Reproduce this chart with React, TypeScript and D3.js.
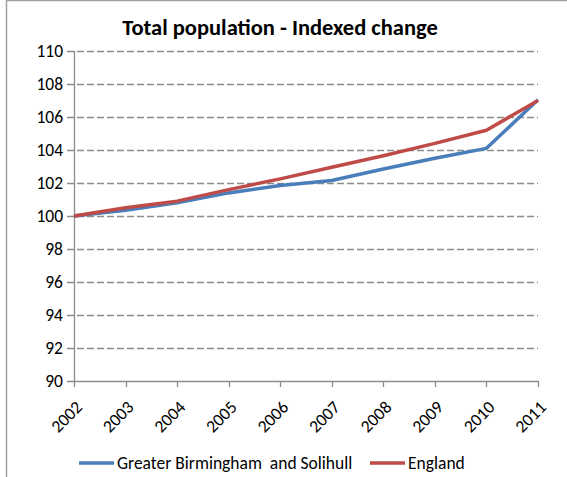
import { useEffect, useRef } from "react";
import * as d3 from "d3";

const years = ["2002", "2003", "2004", "2005", "2006", "2007", "2008", "2009", "2010", "2011"];
const birmingham = [100, 100.35, 100.8, 101.4, 101.85, 102.15, 102.85, 103.5, 104.1, 107.05];
const england = [100, 100.5, 100.9, 101.6, 102.25, 102.95, 103.65, 104.4, 105.2, 107.0];
const yTicks = [90, 92, 94, 96, 98, 100, 102, 104, 106, 108, 110];

const series = [
  { name: "Greater Birmingham  and Solihull", values: birmingham, color: "#4a7ebb" },
  { name: "England", values: england, color: "#be4b48" },
];

const App = () => {
  const svgRef = useRef<SVGSVGElement>(null);

  useEffect(() => {
    if (!svgRef.current) return;
    const svg = d3.select(svgRef.current);
    svg.selectAll("*").remove();

    const width = 567;
    const height = 477;
    const margin = { top: 51, right: 29, bottom: 96, left: 74 };
    const font = "Carlito, 'Liberation Sans', Arial, sans-serif";

    const x = d3
      .scalePoint()
      .domain(years)
      .range([margin.left, width - margin.right]);
    const y = d3
      .scaleLinear()
      .domain([90, 110])
      .range([height - margin.bottom, margin.top]);

    // outer border (left + top visible)
    svg
      .append("path")
      .attr("d", `M6.5,${height} V0.5 H${width}`)
      .attr("fill", "none")
      .attr("stroke", "#a0a0a0")
      .attr("stroke-width", 1.5);

    // gridlines
    svg
      .append("g")
      .selectAll("line")
      .data(yTicks)
      .join("line")
      .attr("x1", margin.left - 7)
      .attr("x2", width - margin.right)
      .attr("y1", (d) => Math.round(y(d)) + 0.5)
      .attr("y2", (d) => Math.round(y(d)) + 0.5)
      .attr("stroke", "#8c8c8c")
      .attr("stroke-width", 1.3)
      .attr("stroke-dasharray", (d) => (d === 90 ? null : "7,3"));

    // y axis line
    svg
      .append("line")
      .attr("x1", margin.left + 0.5)
      .attr("x2", margin.left + 0.5)
      .attr("y1", y(110))
      .attr("y2", y(90))
      .attr("stroke", "#8c8c8c")
      .attr("stroke-width", 1.3);

    // y labels
    svg
      .append("g")
      .selectAll("text")
      .data(yTicks)
      .join("text")
      .attr("x", margin.left - 11)
      .attr("y", (d) => y(d))
      .attr("dy", "0.35em")
      .attr("text-anchor", "end")
      .attr("font-family", font)
      .attr("font-size", 17.5)
      .attr("fill", "#000")
      .text((d) => d);

    // x ticks
    svg
      .append("g")
      .selectAll("line")
      .data(years)
      .join("line")
      .attr("x1", (d) => Math.round(x(d)!) + 0.5)
      .attr("x2", (d) => Math.round(x(d)!) + 0.5)
      .attr("y1", y(90))
      .attr("y2", y(90) + 6)
      .attr("stroke", "#8c8c8c")
      .attr("stroke-width", 1.3);

    // x labels rotated
    svg
      .append("g")
      .selectAll("text")
      .data(years)
      .join("text")
      .attr("transform", (d) => `translate(${x(d)! + 5},${y(90) + 23}) rotate(-45)`)
      .attr("text-anchor", "end")
      .attr("dy", "0.35em")
      .attr("font-family", font)
      .attr("font-size", 17.5)
      .attr("fill", "#000")
      .text((d) => d);

    // lines
    const line = d3
      .line<number>()
      .x((_, i) => x(years[i])!)
      .y((d) => y(d));

    svg
      .append("g")
      .selectAll("path")
      .data(series)
      .join("path")
      .attr("d", (d) => line(d.values))
      .attr("fill", "none")
      .attr("stroke", (d) => d.color)
      .attr("stroke-width", 3.5)
      .attr("stroke-linejoin", "round");

    // title
    svg
      .append("text")
      .attr("x", 280)
      .attr("y", 35)
      .attr("text-anchor", "middle")
      .attr("font-family", font)
      .attr("font-weight", "bold")
      .attr("font-size", 22.5)
      .attr("fill", "#000")
      .text("Total population - Indexed change");

    // legend
    const legendY = 463;
    const legendPos = [79, 370];
    const lg = svg
      .append("g")
      .selectAll("g")
      .data(series)
      .join("g")
      .attr("transform", (_, i) => `translate(${legendPos[i]},${legendY})`);
    lg.append("line")
      .attr("x1", 0)
      .attr("x2", 35)
      .attr("stroke", (d) => d.color)
      .attr("stroke-width", 3.5);
    lg.append("text")
      .attr("x", 38)
      .attr("dy", "0.35em")
      .attr("font-family", font)
      .attr("font-size", 17.5)
      .attr("fill", "#000")
      .attr("xml:space", "preserve")
      .style("white-space", "pre")
      .text((d) => d.name);
  }, []);

  return (
    <svg
      ref={svgRef}
      width={567}
      height={477}
      style={{ position: "absolute", left: 0, top: 0, background: "#fff" }}
    />
  );
};

export default App;
